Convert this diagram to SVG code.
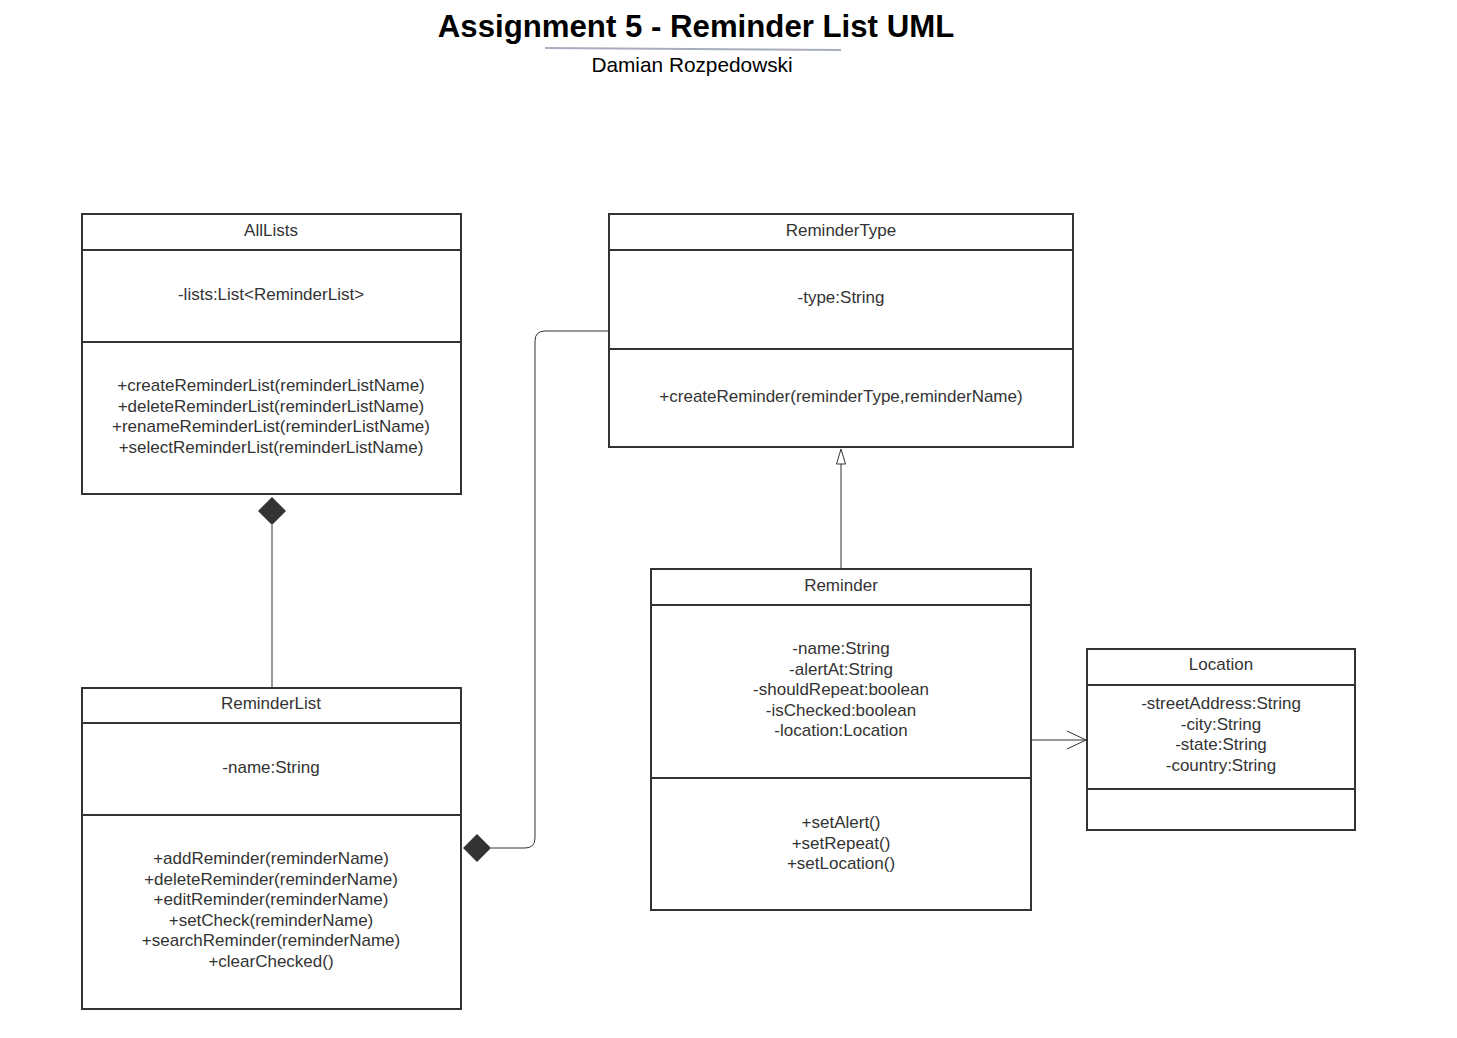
<svg xmlns="http://www.w3.org/2000/svg" width="1457" height="1038" viewBox="0 0 1457 1038">
<style>
.box{fill:#fff;stroke:#333;stroke-width:2}
.div{stroke:#333;stroke-width:2}
.t{font-family:"Liberation Sans",Arial,sans-serif;font-size:17px;fill:#333;text-anchor:middle}
.c{fill:none;stroke:#333;stroke-width:1}
.dia{fill:#333}
</style>
<defs>
<marker id="tri" viewBox="0 0 12 18" refX="6" refY="1" markerWidth="12" markerHeight="18" markerUnits="userSpaceOnUse" orient="auto-start-reverse">
<path d="M6 1 L10.5 16 L1.5 16 Z" fill="#fff" stroke="#333" stroke-width="1"/>
</marker>
<marker id="open" viewBox="0 0 22 22" refX="21" refY="11" markerWidth="22" markerHeight="22" markerUnits="userSpaceOnUse" orient="auto">
<path d="M2 2 L21 11 L2 20" fill="none" stroke="#333" stroke-width="1"/>
</marker>
</defs>
<rect width="1457" height="1038" fill="#fff"/>
<g id="title">
<text x="696" y="37" font-family="'Liberation Sans',Arial,sans-serif" font-size="31.2" font-weight="bold" text-anchor="middle" fill="#000">Assignment 5 - Reminder List UML</text>
<line x1="545" y1="48" x2="841" y2="50" stroke="#a8adbd" stroke-width="2"/>
<text x="692" y="72" font-family="'Liberation Sans',Arial,sans-serif" font-size="20.8" text-anchor="middle" fill="#000">Damian Rozpedowski</text>
</g>
<g id="connectors">
<path class="c" d="M272 688 L272 525"/>
<path class="c" d="M491 848 L525 848 Q535 848 535 838 L535 341 Q535 331 545 331 L609 331"/>
<path class="c" d="M841 569 L841 464"/>
<path d="M841 449 L845.5 464 L836.5 464 Z" fill="#fff" stroke="#333" stroke-width="1"/>
<path class="c" d="M1032 740 L1086 740" marker-end="url(#open)"/>
<path class="dia" d="M258 511 L272 497 L286 511 L272 525 Z"/>
<path class="dia" d="M463 848 L477 834 L491 848 L477 862 Z"/>
</g>
<g id="AllLists">
<rect class="box" x="82" y="214" width="379" height="280"/>
<line class="div" x1="82" y1="250" x2="461" y2="250"/>
<line class="div" x1="82" y1="342" x2="461" y2="342"/>
<text class="t" x="271" y="236">AllLists</text>
<text class="t" x="271" y="300">-lists:List&lt;ReminderList&gt;</text>
<text class="t" x="271" y="391">+createReminderList(reminderListName)</text>
<text class="t" x="271" y="411.5">+deleteReminderList(reminderListName)</text>
<text class="t" x="271" y="432">+renameReminderList(reminderListName)</text>
<text class="t" x="271" y="452.5">+selectReminderList(reminderListName)</text>
</g>
<g id="ReminderList">
<rect class="box" x="82" y="688" width="379" height="321"/>
<line class="div" x1="82" y1="723" x2="461" y2="723"/>
<line class="div" x1="82" y1="815" x2="461" y2="815"/>
<text class="t" x="271" y="709">ReminderList</text>
<text class="t" x="271" y="773">-name:String</text>
<text class="t" x="271" y="864">+addReminder(reminderName)</text>
<text class="t" x="271" y="884.5">+deleteReminder(reminderName)</text>
<text class="t" x="271" y="905">+editReminder(reminderName)</text>
<text class="t" x="271" y="925.5">+setCheck(reminderName)</text>
<text class="t" x="271" y="946">+searchReminder(reminderName)</text>
<text class="t" x="271" y="966.5">+clearChecked()</text>
</g>
<g id="ReminderType">
<rect class="box" x="609" y="214" width="464" height="233"/>
<line class="div" x1="609" y1="250" x2="1073" y2="250"/>
<line class="div" x1="609" y1="349" x2="1073" y2="349"/>
<text class="t" x="841" y="236">ReminderType</text>
<text class="t" x="841" y="303">-type:String</text>
<text class="t" x="841" y="402">+createReminder(reminderType,reminderName)</text>
</g>
<g id="Reminder">
<rect class="box" x="651" y="569" width="380" height="341"/>
<line class="div" x1="651" y1="605" x2="1031" y2="605"/>
<line class="div" x1="651" y1="778" x2="1031" y2="778"/>
<text class="t" x="841" y="591">Reminder</text>
<text class="t" x="841" y="654">-name:String</text>
<text class="t" x="841" y="674.5">-alertAt:String</text>
<text class="t" x="841" y="695">-shouldRepeat:boolean</text>
<text class="t" x="841" y="715.5">-isChecked:boolean</text>
<text class="t" x="841" y="736">-location:Location</text>
<text class="t" x="841" y="828">+setAlert()</text>
<text class="t" x="841" y="848.5">+setRepeat()</text>
<text class="t" x="841" y="869">+setLocation()</text>
</g>
<g id="Location">
<rect class="box" x="1087" y="649" width="268" height="181"/>
<line class="div" x1="1087" y1="685" x2="1355" y2="685"/>
<line class="div" x1="1087" y1="789" x2="1355" y2="789"/>
<text class="t" x="1221" y="670">Location</text>
<text class="t" x="1221" y="709">-streetAddress:String</text>
<text class="t" x="1221" y="729.5">-city:String</text>
<text class="t" x="1221" y="750">-state:String</text>
<text class="t" x="1221" y="770.5">-country:String</text>
</g>
</svg>
